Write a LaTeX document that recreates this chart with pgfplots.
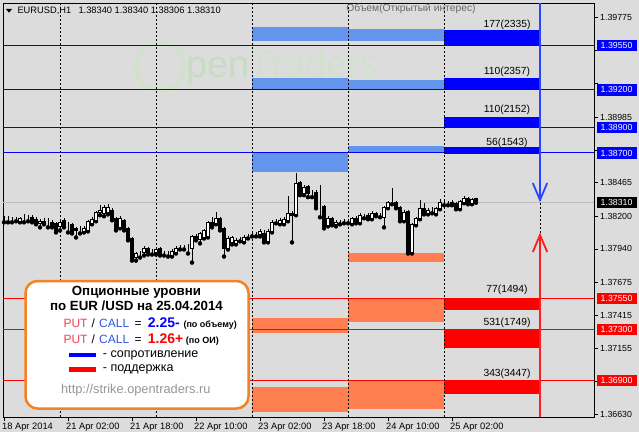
\documentclass[border=0pt]{standalone}
\usepackage{fontspec}
\setmainfont{Liberation Sans}
\usepackage{pgfplots}
\pgfplotsset{compat=1.18}
\usepackage{pgfplotstable}
\definecolor{bg}{RGB}{220,220,220}
\definecolor{lblue}{RGB}{100,149,237}
\definecolor{coral}{RGB}{255,127,80}
\definecolor{pblue}{RGB}{0,0,255}
\definecolor{pred}{RGB}{255,0,0}
\definecolor{putc}{RGB}{232,70,80}
\definecolor{callc}{RGB}{50,85,230}
\definecolor{orng}{RGB}{245,130,32}
\definecolor{urlgray}{RGB}{150,150,150}
\definecolor{wmA}{RGB}{198,222,192}
\definecolor{wmB}{RGB}{209,225,205}
\definecolor{curgray}{RGB}{188,188,188}
\definecolor{arrblue}{RGB}{40,70,255}
\definecolor{arrred}{RGB}{255,30,30}
\definecolor{hdrgray}{RGB}{105,105,105}
\newcommand\fs[1]{\fontsize{#1}{#1}\selectfont}

\pgfplotstableread{
h o hi lo c
-14 1.38175 1.38199 1.38151 1.38175
-13 1.38175 1.38199 1.38151 1.38175
-12 1.38175 1.38191 1.38151 1.38175
-11 1.38175 1.38191 1.38159 1.38175
-10 1.38159 1.38191 1.38151 1.38183
-9 1.38183 1.38214 1.38151 1.38183
-8 1.38183 1.38207 1.38159 1.38183
-7 1.38191 1.38207 1.38151 1.38159
-6 1.38175 1.38191 1.38135 1.38143
-5 1.38143 1.38175 1.38111 1.38159
-4 1.38159 1.38183 1.38135 1.38143
-3 1.38151 1.38183 1.38111 1.38151
-2 1.38151 1.38167 1.38111 1.38119
-1 1.38143 1.38151 1.38071 1.38079
0 1.38119 1.38175 1.38087 1.38151
1 1.38167 1.38183 1.38111 1.38119
2 1.38119 1.38151 1.38071 1.38119
3 1.38135 1.38143 1.38063 1.38071
4 1.38103 1.38111 1.38031 1.38087
5 1.38095 1.38119 1.38063 1.38095
6 1.38079 1.38119 1.38071 1.38103
7 1.38087 1.38167 1.38079 1.38159
8 1.38143 1.38191 1.38135 1.38175
9 1.38167 1.38238 1.38159 1.38230
10 1.38230 1.38286 1.38207 1.38246
11 1.38222 1.38286 1.38199 1.38270
12 1.38230 1.38294 1.38214 1.38270
13 1.38246 1.38262 1.38167 1.38175
14 1.38183 1.38191 1.38087 1.38095
15 1.38111 1.38199 1.38103 1.38183
16 1.38167 1.38175 1.38087 1.38103
17 1.38103 1.38111 1.38008 1.38015
18 1.38023 1.38031 1.37848 1.37864
19 1.37872 1.37912 1.37848 1.37904
20 1.37896 1.37920 1.37872 1.37896
21 1.37912 1.37960 1.37888 1.37944
22 1.37944 1.37952 1.37896 1.37912
23 1.37920 1.37936 1.37896 1.37920
24 1.37912 1.37952 1.37896 1.37936
25 1.37944 1.37952 1.37888 1.37896
26 1.37904 1.37920 1.37888 1.37904
27 1.37904 1.37920 1.37880 1.37904
28 1.37888 1.37936 1.37880 1.37920
29 1.37912 1.37960 1.37904 1.37944
30 1.37952 1.37968 1.37936 1.37952
31 1.37952 1.37968 1.37936 1.37952
32 1.37952 1.37976 1.37904 1.37952
33 1.37944 1.38047 1.37832 1.38039
34 1.38039 1.38055 1.38008 1.38023
35 1.38015 1.38071 1.37984 1.38063
36 1.38031 1.38095 1.38023 1.38087
37 1.38039 1.38159 1.38031 1.38151
38 1.38151 1.38191 1.38111 1.38119
39 1.38143 1.38230 1.38135 1.38183
40 1.38183 1.38191 1.38087 1.38095
41 1.38103 1.38111 1.37880 1.37944
42 1.37944 1.38039 1.37936 1.38023
43 1.37992 1.38039 1.37976 1.38031
44 1.37984 1.38023 1.37976 1.38008
45 1.38015 1.38031 1.38000 1.38015
46 1.38000 1.38047 1.37992 1.38031
47 1.38039 1.38055 1.38023 1.38039
48 1.38055 1.38071 1.38039 1.38055
49 1.38055 1.38071 1.38039 1.38055
50 1.38055 1.38095 1.38039 1.38079
51 1.38063 1.38087 1.37992 1.38000
52 1.38000 1.38095 1.37992 1.38079
53 1.38079 1.38167 1.38071 1.38151
54 1.38159 1.38175 1.38143 1.38159
55 1.38143 1.38183 1.38135 1.38167
56 1.38143 1.38191 1.38135 1.38175
57 1.38167 1.38358 1.38159 1.38222
58 1.38222 1.38238 1.37992 1.38207
59 1.38214 1.38541 1.38207 1.38461
60 1.38469 1.38477 1.38366 1.38382
61 1.38382 1.38445 1.38366 1.38429
62 1.38437 1.38445 1.38350 1.38382
63 1.38390 1.38406 1.38350 1.38390
64 1.38390 1.38406 1.38262 1.38270
65 1.38270 1.38445 1.38191 1.38270
66 1.38278 1.38286 1.38103 1.38119
67 1.38127 1.38199 1.38119 1.38183
68 1.38183 1.38191 1.38127 1.38135
69 1.38135 1.38167 1.38119 1.38151
70 1.38151 1.38167 1.38135 1.38151
71 1.38159 1.38175 1.38143 1.38159
72 1.38159 1.38175 1.38143 1.38159
73 1.38143 1.38191 1.38135 1.38183
74 1.38183 1.38199 1.38143 1.38151
75 1.38151 1.38222 1.38143 1.38207
76 1.38199 1.38214 1.38183 1.38199
77 1.38207 1.38222 1.38175 1.38183
78 1.38183 1.38238 1.38175 1.38222
79 1.38222 1.38230 1.38199 1.38207
80 1.38207 1.38222 1.38191 1.38207
81 1.38191 1.38278 1.38111 1.38270
82 1.38270 1.38318 1.38262 1.38310
83 1.38310 1.38421 1.38294 1.38310
84 1.38310 1.38318 1.38262 1.38270
85 1.38270 1.38278 1.38159 1.38167
86 1.38167 1.38246 1.38159 1.38230
87 1.38238 1.38246 1.37904 1.37912
88 1.37912 1.38143 1.37904 1.38135
89 1.38135 1.38191 1.38127 1.38183
90 1.38183 1.38326 1.38175 1.38262
91 1.38262 1.38302 1.38214 1.38222
92 1.38222 1.38262 1.38214 1.38246
93 1.38246 1.38270 1.38222 1.38246
94 1.38222 1.38270 1.38214 1.38262
95 1.38262 1.38334 1.38254 1.38310
96 1.38302 1.38318 1.38286 1.38302
97 1.38302 1.38318 1.38286 1.38302
98 1.38310 1.38326 1.38286 1.38294
99 1.38302 1.38310 1.38254 1.38262
100 1.38262 1.38326 1.38254 1.38318
101 1.38310 1.38358 1.38302 1.38342
102 1.38342 1.38350 1.38294 1.38302
103 1.38302 1.38342 1.38294 1.38334
104 1.38340 1.38340 1.38306 1.38310
}\candles

\begin{document}
\begin{tikzpicture}[x=1pt,y=1pt]
\fill[bg] (0,0) rectangle (639,432);
\useasboundingbox (0,0) rectangle (639,432);
% faint watermark
\draw[wmB, line width=5pt] (160,365) circle (24);
\node[anchor=base west, inner sep=0pt, text=wmB, font=\fs{38}] at (186,354) {{\color{wmA}pen}Traders};

\begin{axis}[
 scale only axis, width=591pt, height=414pt, at={(3pt,15pt)}, anchor=south west,
 xmin=-14.25, xmax=133.5, ymin=1.36609, ymax=1.39888, enlargelimits=false,
 axis line style={black, line width=0.8pt},
 tick align=outside, major tick length=4pt,
 tick style={black, line width=0.6pt},
 xtick pos=left, ytick pos=right, yticklabel pos=right,
 xtick={-14,2,18,34,50,66,82,98},
 xticklabels={18 Apr 2014,21 Apr 02:00,21 Apr 18:00,22 Apr 10:00,23 Apr 02:00,23 Apr 18:00,24 Apr 10:00,25 Apr 02:00},
 xticklabel style={anchor=north west, inner sep=0pt, xshift=-2pt, yshift=-1.5pt, font=\fs{9.3}},
 ytick={1.36630,1.36890,1.37155,1.37415,1.37675,1.37940,1.38200,1.38465,1.38725,1.38985,1.39250,1.39510,1.39775},
 yticklabels={1.36630,,1.37155,1.37415,1.37675,1.37940,1.38200,1.38465,,1.38985,,,1.39775},
 yticklabel style={anchor=west, inner sep=0pt, xshift=2pt, font=\fs{8.8}},
]
% option volume bars: light blue / coral (previous days), blue / red (current)
\addplot[draw=none, fill=lblue] coordinates {(48,1.39698) (72,1.39698) (72,1.39587) (48,1.39587)};
\addplot[draw=none, fill=lblue] coordinates {(72,1.39682) (96,1.39682) (96,1.39587) (72,1.39587)};
\addplot[draw=none, fill=lblue] coordinates {(48,1.39294) (72,1.39294) (72,1.39200) (48,1.39200)};
\addplot[draw=none, fill=lblue] coordinates {(72,1.39278) (96,1.39278) (96,1.39200) (72,1.39200)};
\addplot[draw=none, fill=lblue] coordinates {(48,1.38700) (72,1.38700) (72,1.38550) (48,1.38550)};
\addplot[draw=none, fill=lblue] coordinates {(72,1.38755) (96,1.38755) (96,1.38700) (72,1.38700)};
\addplot[draw=none, fill=pblue] coordinates {(96,1.39674) (120,1.39674) (120,1.39550) (96,1.39550)};
\addplot[draw=none, fill=pblue] coordinates {(96,1.39294) (120,1.39294) (120,1.39200) (96,1.39200)};
\addplot[draw=none, fill=pblue] coordinates {(96,1.38985) (120,1.38985) (120,1.38900) (96,1.38900)};
\addplot[draw=none, fill=pblue] coordinates {(96,1.38745) (120,1.38745) (120,1.38692) (96,1.38692)};
\addplot[draw=none, fill=coral] coordinates {(72,1.37908) (96,1.37908) (96,1.37837) (72,1.37837)};
\addplot[draw=none, fill=coral] coordinates {(72,1.37550) (96,1.37550) (96,1.37362) (72,1.37362)};
\addplot[draw=none, fill=coral] coordinates {(48,1.37393) (72,1.37393) (72,1.37274) (48,1.37274)};
\addplot[draw=none, fill=coral] coordinates {(48,1.36847) (72,1.36847) (72,1.36649) (48,1.36649)};
\addplot[draw=none, fill=coral] coordinates {(72,1.36900) (96,1.36900) (96,1.36673) (72,1.36673)};
\addplot[draw=none, fill=pred] coordinates {(96,1.37550) (120,1.37550) (120,1.37457) (96,1.37457)};
\addplot[draw=none, fill=pred] coordinates {(96,1.37300) (120,1.37300) (120,1.37156) (96,1.37156)};
\addplot[draw=none, fill=pred] coordinates {(96,1.36900) (120,1.36900) (120,1.36791) (96,1.36791)};
% level lines
\addplot[pblue, line width=1pt] coordinates {(-14.25,1.39550) (133.5,1.39550)};
\addplot[pblue, line width=1pt] coordinates {(-14.25,1.39200) (133.5,1.39200)};
\addplot[pblue, line width=1pt] coordinates {(-14.25,1.38900) (133.5,1.38900)};
\addplot[pblue, line width=1pt] coordinates {(-14.25,1.38700) (133.5,1.38700)};
\addplot[pred, line width=1pt] coordinates {(-14.25,1.37550) (133.5,1.37550)};
\addplot[pred, line width=1pt] coordinates {(-14.25,1.37300) (133.5,1.37300)};
\addplot[pred, line width=1pt] coordinates {(-14.25,1.36900) (133.5,1.36900)};
\addplot[curgray, line width=0.9pt] coordinates {(-14.25,1.38310) (133.5,1.38310)};
% day separators
\addplot[black, line width=0.7pt, dash pattern=on 2pt off 2pt] coordinates {(0,1.36609) (0,1.39888)};
\addplot[black, line width=0.7pt, dash pattern=on 2pt off 2pt] coordinates {(24,1.36609) (24,1.39888)};
\addplot[black, line width=0.7pt, dash pattern=on 2pt off 2pt] coordinates {(48,1.36609) (48,1.39888)};
\addplot[black, line width=0.7pt, dash pattern=on 2pt off 2pt] coordinates {(72,1.36609) (72,1.39888)};
\addplot[black, line width=0.7pt, dash pattern=on 2pt off 2pt] coordinates {(96,1.36609) (96,1.39888)};
\addplot[black, line width=0.7pt, dash pattern=on 2pt off 2pt] coordinates {(120,1.36609) (120,1.39888)};
% wicks
\addplot[only marks, mark=none, error bars/.cd, y dir=plus, y explicit, error mark=none,
  error bar style={draw=black, solid, line width=0.8pt}]
  table[x=h, y=lo, y error plus expr={\thisrow{hi}-\thisrow{lo}}] {\candles};
% arrows
\addplot[arrblue, line width=1.8pt] coordinates {(120,1.39888) (120,1.38328)};
\addplot[arrblue, line width=1.8pt] coordinates {(118.2,1.38462) (120,1.38328) (121.8,1.38462)};
\addplot[arrred, line width=1.8pt] coordinates {(120,1.36609) (120,1.38051)};
\addplot[arrred, line width=1.8pt] coordinates {(118.2,1.37916) (120,1.38051) (121.8,1.37916)};
\end{axis}

% candle bodies (pips above 1.36000 for stacking)
\begin{axis}[
 scale only axis, width=591pt, height=414pt, at={(3pt,15pt)}, anchor=south west,
 xmin=-14.25, xmax=133.5, ymin=60.9, ymax=388.8, enlargelimits=false,
 hide axis, ybar stacked, bar width=2.8pt,
]
\addplot[draw=none, fill=none] table[x=h, y expr={(min(\thisrow{o},\thisrow{c})-1.36)*10000}] {\candles};
\addplot[draw=black, fill=white, line width=0.7pt] table[x=h, y expr={max(\thisrow{c}-\thisrow{o},0)*10000}] {\candles};
\addplot[draw=black, fill=black, line width=0.7pt] table[x=h, y expr={max(\thisrow{o}-\thisrow{c},0)*10000}] {\candles};
\end{axis}

% header
\fill[black] (6,423) -- (12,423) -- (9,419.3) -- cycle;
\node[anchor=west, inner sep=0pt, font=\fs{9.3}] at (17.3,421.3) {EURUSD,H1};
\node[anchor=west, inner sep=0pt, font=\fs{9.3}] at (78.3,421.3) {1.38340 1.38340 1.38306 1.38310};
\node[inner sep=0pt, font=\fs{10.3}, text=hdrgray] at (411,423.7) {Объем(Открытый интерес)};
% volume labels
\node[inner sep=0pt, font=\fs{10.3}] at (507,407.5) {177(2335)};
\node[inner sep=0pt, font=\fs{10.3}] at (507,360) {110(2357)};
\node[inner sep=0pt, font=\fs{10.3}] at (507,322.3) {110(2152)};
\node[inner sep=0pt, font=\fs{10.3}] at (507,289.5) {56(1543)};
\node[inner sep=0pt, font=\fs{10.3}] at (507,142) {77(1494)};
\node[inner sep=0pt, font=\fs{10.3}] at (507,109) {531(1749)};
\node[inner sep=0pt, font=\fs{10.3}] at (507,58.5) {343(3447)};
% price boxes on the right
\foreach \yy/\lab/\col in {386.3/1.39550/pblue, 342.1/1.39200/pblue, 304.3/1.38900/pblue, 279.0/1.38700/pblue, 229.8/1.38310/black, 133.8/1.37550/pred, 102.2/1.37300/pred, 51.7/1.36900/pred}{
 \fill[\col] (597,\yy-5.6) rectangle (637,\yy+5.6);
 \node[text=white, font=\fs{8.8}, inner sep=0pt] at (616.6,\yy) {\lab};
}
% info box
\draw[orng, line width=2.5pt, fill=white, rounded corners=12pt] (25.5,23.5) rectangle (248.5,151);
\node[anchor=base, inner sep=0pt, font=\fs{13.3}\bfseries] at (136.5,136.7) {Опционные уровни};
\node[anchor=base, inner sep=0pt, font=\fs{13.3}\bfseries] at (136.5,121.3) {по EUR /USD на 25.04.2014};
\node[anchor=base west, inner sep=0pt, font=\fs{12}, text=putc] at (63.3,104.7) {PUT};
\node[anchor=base west, inner sep=0pt, font=\fs{12}] at (91.5,104.7) {/};
\node[anchor=base west, inner sep=0pt, font=\fs{12}, text=callc] at (99,104.7) {CALL};
\node[anchor=base west, inner sep=0pt, font=\fs{12}] at (134.5,104.7) {=};
\node[anchor=base west, inner sep=0pt, font=\fs{14}\bfseries, text=pblue] at (147.7,104.7) {2.25-};
\node[anchor=base west, inner sep=0pt, font=\fs{9}\bfseries] at (183.3,104.7) {(по объему)};
\node[anchor=base west, inner sep=0pt, font=\fs{12}, text=putc] at (63.3,88.7) {PUT};
\node[anchor=base west, inner sep=0pt, font=\fs{12}] at (91.5,88.7) {/};
\node[anchor=base west, inner sep=0pt, font=\fs{12}, text=callc] at (99,88.7) {CALL};
\node[anchor=base west, inner sep=0pt, font=\fs{12}] at (134.5,88.7) {=};
\node[anchor=base west, inner sep=0pt, font=\fs{14}\bfseries, text=pred] at (147.7,88.7) {1.26+};
\node[anchor=base west, inner sep=0pt, font=\fs{9}\bfseries] at (185.7,88.7) {(по ОИ)};
\fill[pblue] (69.3,74.7) rectangle (96,79.3);
\node[anchor=base west, inner sep=0pt, font=\fs{12.5}] at (102.7,74.3) {- сопротивление};
\fill[pred] (69.3,59.7) rectangle (96,64.7);
\node[anchor=base west, inner sep=0pt, font=\fs{12.5}] at (102.7,60.3) {- поддержка};
\node[anchor=base, inner sep=0pt, font=\fs{12.8}, text=urlgray] at (135.8,38.7) {http://strike.opentraders.ru};
\end{tikzpicture}
\end{document}
